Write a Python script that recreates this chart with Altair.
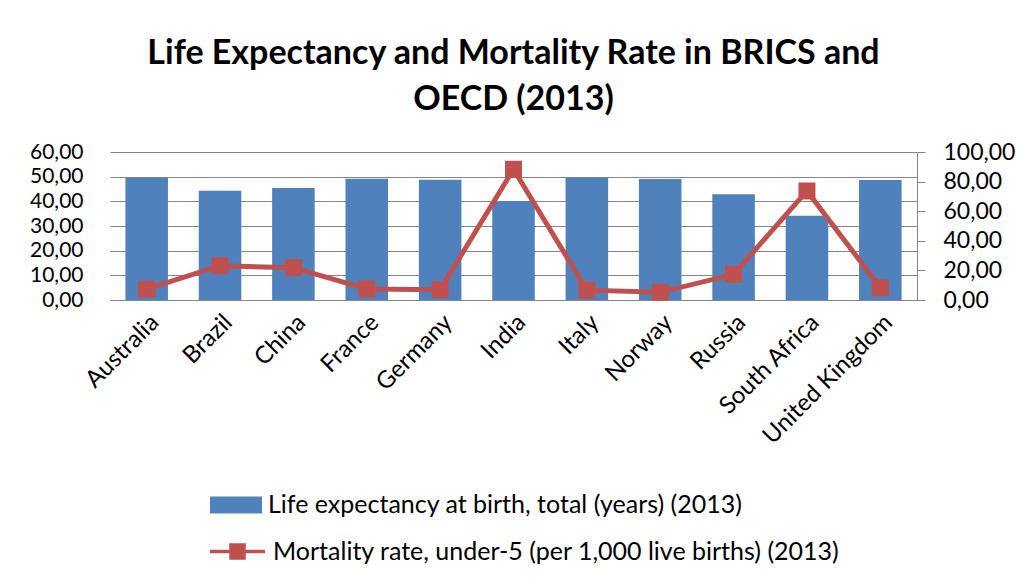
import altair as alt
import pandas as pd

countries = ["Australia", "Brazil", "China", "France", "Germany", "India",
             "Italy", "Norway", "Russia", "South Africa", "United Kingdom"]
life_expectancy = [82.6, 73.9, 75.7, 82.0, 81.3, 66.9, 82.6, 81.8, 71.4, 57.0, 81.1]
mortality = [4.4, 13.9, 13.1, 4.5, 4.2, 53.0, 4.0, 3.1, 10.4, 44.2, 5.0]

LE_NAME = "Life expectancy at birth, total (years) (2013)"
MR_NAME = "Mortality rate, under-5 (per 1,000 live births) (2013)"

df = pd.DataFrame({"country": countries, "life": life_expectancy, "mort": mortality})

FONT = "Lato"
GRID = "#868686"
BLUE = "#4F81BD"
RED = "#C0504D"
fmt = "replace(format(datum.value, '.2f'), '.', ',')"

x = alt.X("country:N", sort=countries, title=None,
          scale=alt.Scale(paddingInner=0.42, paddingOuter=0.21),
          axis=alt.Axis(labelAngle=-45, labelFontSize=24, labelFont=FONT,
                        labelColor="black", ticks=False, domainColor=GRID,
                        labelPadding=10))

bars = alt.Chart(df).mark_bar(color=BLUE).encode(
    x=x,
    y=alt.Y("life:Q", title=None,
            scale=alt.Scale(domain=[0, 100], nice=False),
            axis=alt.Axis(orient="right", values=[0, 20, 40, 60, 80, 100],
                          labelExpr=fmt, grid=False, domain=True, domainColor=GRID,
                          ticks=True, tickColor=GRID, tickSize=8, labelPadding=18,
                          labelFontSize=23, labelFont=FONT, labelColor="black")),
    color=alt.Color("s1:N", scale=alt.Scale(domain=[LE_NAME], range=[BLUE]),
                    legend=alt.Legend(orient="none", legendX=100, legendY=327,
                                      title=None, symbolType="M-1,-0.33H1V0.33H-1Z",
                                      symbolSize=2704, symbolStrokeWidth=0,
                                      symbolFillColor=BLUE, symbolOpacity=1,
                                      labelFontSize=25, labelFont=FONT,
                                      labelColor="black", labelLimit=0,
                                      labelOffset=6)),
).transform_calculate(s1=f"'{LE_NAME}'")

line = alt.Chart(df).transform_calculate(s2=f"'{MR_NAME}'").mark_line(
    strokeWidth=5,
    point=alt.OverlayMarkDef(shape="square", size=289, filled=True, color=RED, opacity=1),
).encode(
    x=x,
    y=alt.Y("mort:Q", title=None,
            scale=alt.Scale(domain=[0, 60], nice=False),
            axis=alt.Axis(orient="left", values=[0, 10, 20, 30, 40, 50, 60],
                          labelExpr=fmt, grid=True, gridColor=GRID,
                          gridOpacity=1, domain=False, ticks=False,
                          labelPadding=27, labelFontSize=21, labelFont=FONT,
                          labelColor="black")),
    color=alt.Color("s2:N", scale=alt.Scale(domain=[MR_NAME], range=[RED]),
                    legend=alt.Legend(orient="none", legendX=100, legendY=372,
                                      title=None,
                                      symbolType="M-1,-0.065H1V0.065H-1ZM-0.3,-0.3H0.3V0.3H-0.3Z",
                                      symbolSize=3025, symbolStrokeWidth=0,
                                      symbolFillColor=RED, symbolOpacity=1,
                                      labelFontSize=25, labelFont=FONT,
                                      labelColor="black", labelLimit=0,
                                      labelOffset=8)),
)

chart = alt.layer(bars, line).resolve_scale(
    y="independent", color="independent"
).properties(
    width=807, height=148,
    title=alt.Title(["Life Expectancy and Mortality Rate in BRICS and", "OECD (2013)"],
                    fontSize=34, font=FONT, fontWeight="bold", color="black",
                    anchor="middle", lineHeight=46, offset=24),
    padding={"left": 102, "top": 144, "right": 105, "bottom": 270},
    autosize=alt.AutoSizeParams(type="none"),
).configure(background="white", view=alt.ViewConfig(stroke=None))

chart.save("out.html", embed_options={"renderer": "svg", "actions": False})
